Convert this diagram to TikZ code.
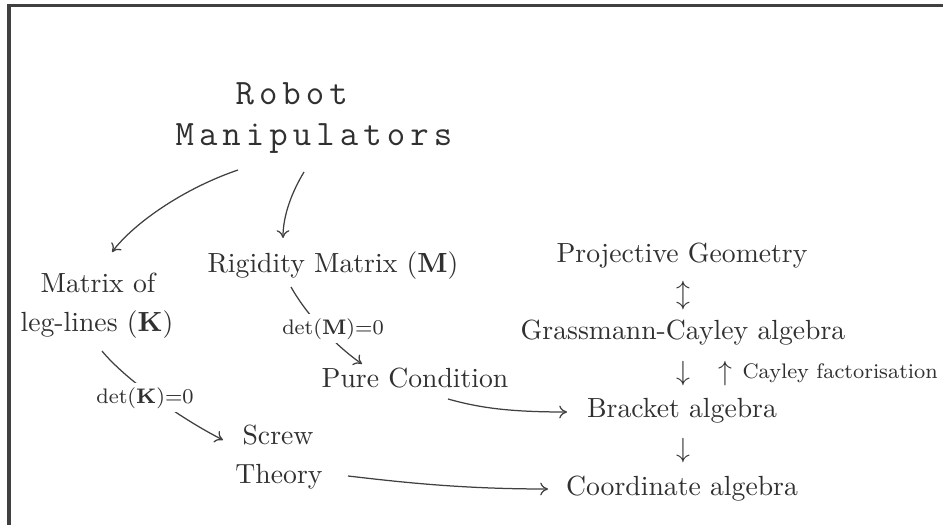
\documentclass[tikz,border=0pt]{standalone}
\usepackage{fontspec}
\newfontfamily\robotfont[LetterSpace=14.2]{Latin Modern Mono}
\usetikzlibrary{arrows.meta}
\definecolor{ink}{HTML}{303030}
\definecolor{wire}{HTML}{404040}
\begin{document}
\begin{tikzpicture}[x=0.361pt,y=-0.361pt,
  lbl/.style={inner sep=0pt, anchor=base, text=ink},
  sym/.style={inner sep=0pt, anchor=center, text=ink},
  tag/.style={inner sep=1.5pt, anchor=base, text=ink, fill=white, font=\fontsize{7.6}{9}\selectfont},
  conn/.style={draw=wire, line width=0.45pt, -{To[length=2.8pt,width=4.6pt]}},
  robo/.style={inner sep=0pt, anchor=base west, text=ink, font=\robotfont\fontsize{12.9}{15}\selectfont}]
\useasboundingbox (0,0) rectangle (943,525);
\draw[draw=wire, line width=1.1pt] (9,525) -- (9,5.5) -- (943,5.5);

% texts
\node[robo] (robot1) at (235,105) {Robot};
\node[robo] (robot2) at (175,146) {Manipulators};
\node[lbl] (matof) at (98,293) {Matrix of};
\node[lbl] (leg) at (97,332) {leg-lines (\textbf{K})};
\node[lbl] (rig) at (333,273) {Rigidity Matrix (\textbf{M})};
\node[lbl] (pure) at (415,387) {Pure Condition};
\node[lbl] (screw) at (278,444) {Screw};
\node[lbl] (theory) at (279,483) {Theory};
\node[lbl] (proj) at (682,263) {Projective Geometry};
\node[sym] (ud) at (683,296) {$\updownarrow$};
\node[lbl] (gc) at (683,340) {Grassmann-Cayley algebra};
\node[sym] (d1) at (683,374) {$\downarrow$};
\node[sym] (u1) at (725,374) {$\uparrow$};
\node[lbl, anchor=base west, font=\fontsize{7.6}{9}\selectfont] (cf) at (742,378) {Cayley factorisation};
\node[lbl] (br) at (682,417) {Bracket algebra};
\node[sym] (d2) at (683,451) {$\downarrow$};
\node[lbl] (co) at (682,495) {Coordinate algebra};

% connector end points
\coordinate (a1s) at (238,170); \coordinate (a1e) at (112,252);
\coordinate (a2s) at (304,172); \coordinate (a2e) at (283,238);
\coordinate (a3s) at (291,287); \coordinate (a3e) at (362,364);
\coordinate (a4s) at (102,351); \coordinate (a4e) at (223,440);
\coordinate (a5s) at (448,399); \coordinate (a5e) at (567,412);
\coordinate (a6s) at (348,476); \coordinate (a6e) at (548,489);

% connectors
\draw[conn] (a1s) .. controls (185,188) and (135,222) .. (a1e);
\draw[conn] (a2s) .. controls (292,192) and (283,215) .. (a2e);
\draw[conn] (a3s) .. controls (305,312) and (332,343) .. (a3e);
\draw[conn] (a4s) .. controls (124,378) and (178,417) .. (a4e);
\draw[conn] (a5s) .. controls (480,408) and (510,412) .. (a5e);
\draw[conn] (a6s) .. controls (400,482) and (460,489) .. (a6e);

% labels on connectors
\node[tag] (detm) at (333,334) {det(\textbf{M})=0};
\node[tag] (detk) at (145,403) {det(\textbf{K})=0};
\end{tikzpicture}
\end{document}
